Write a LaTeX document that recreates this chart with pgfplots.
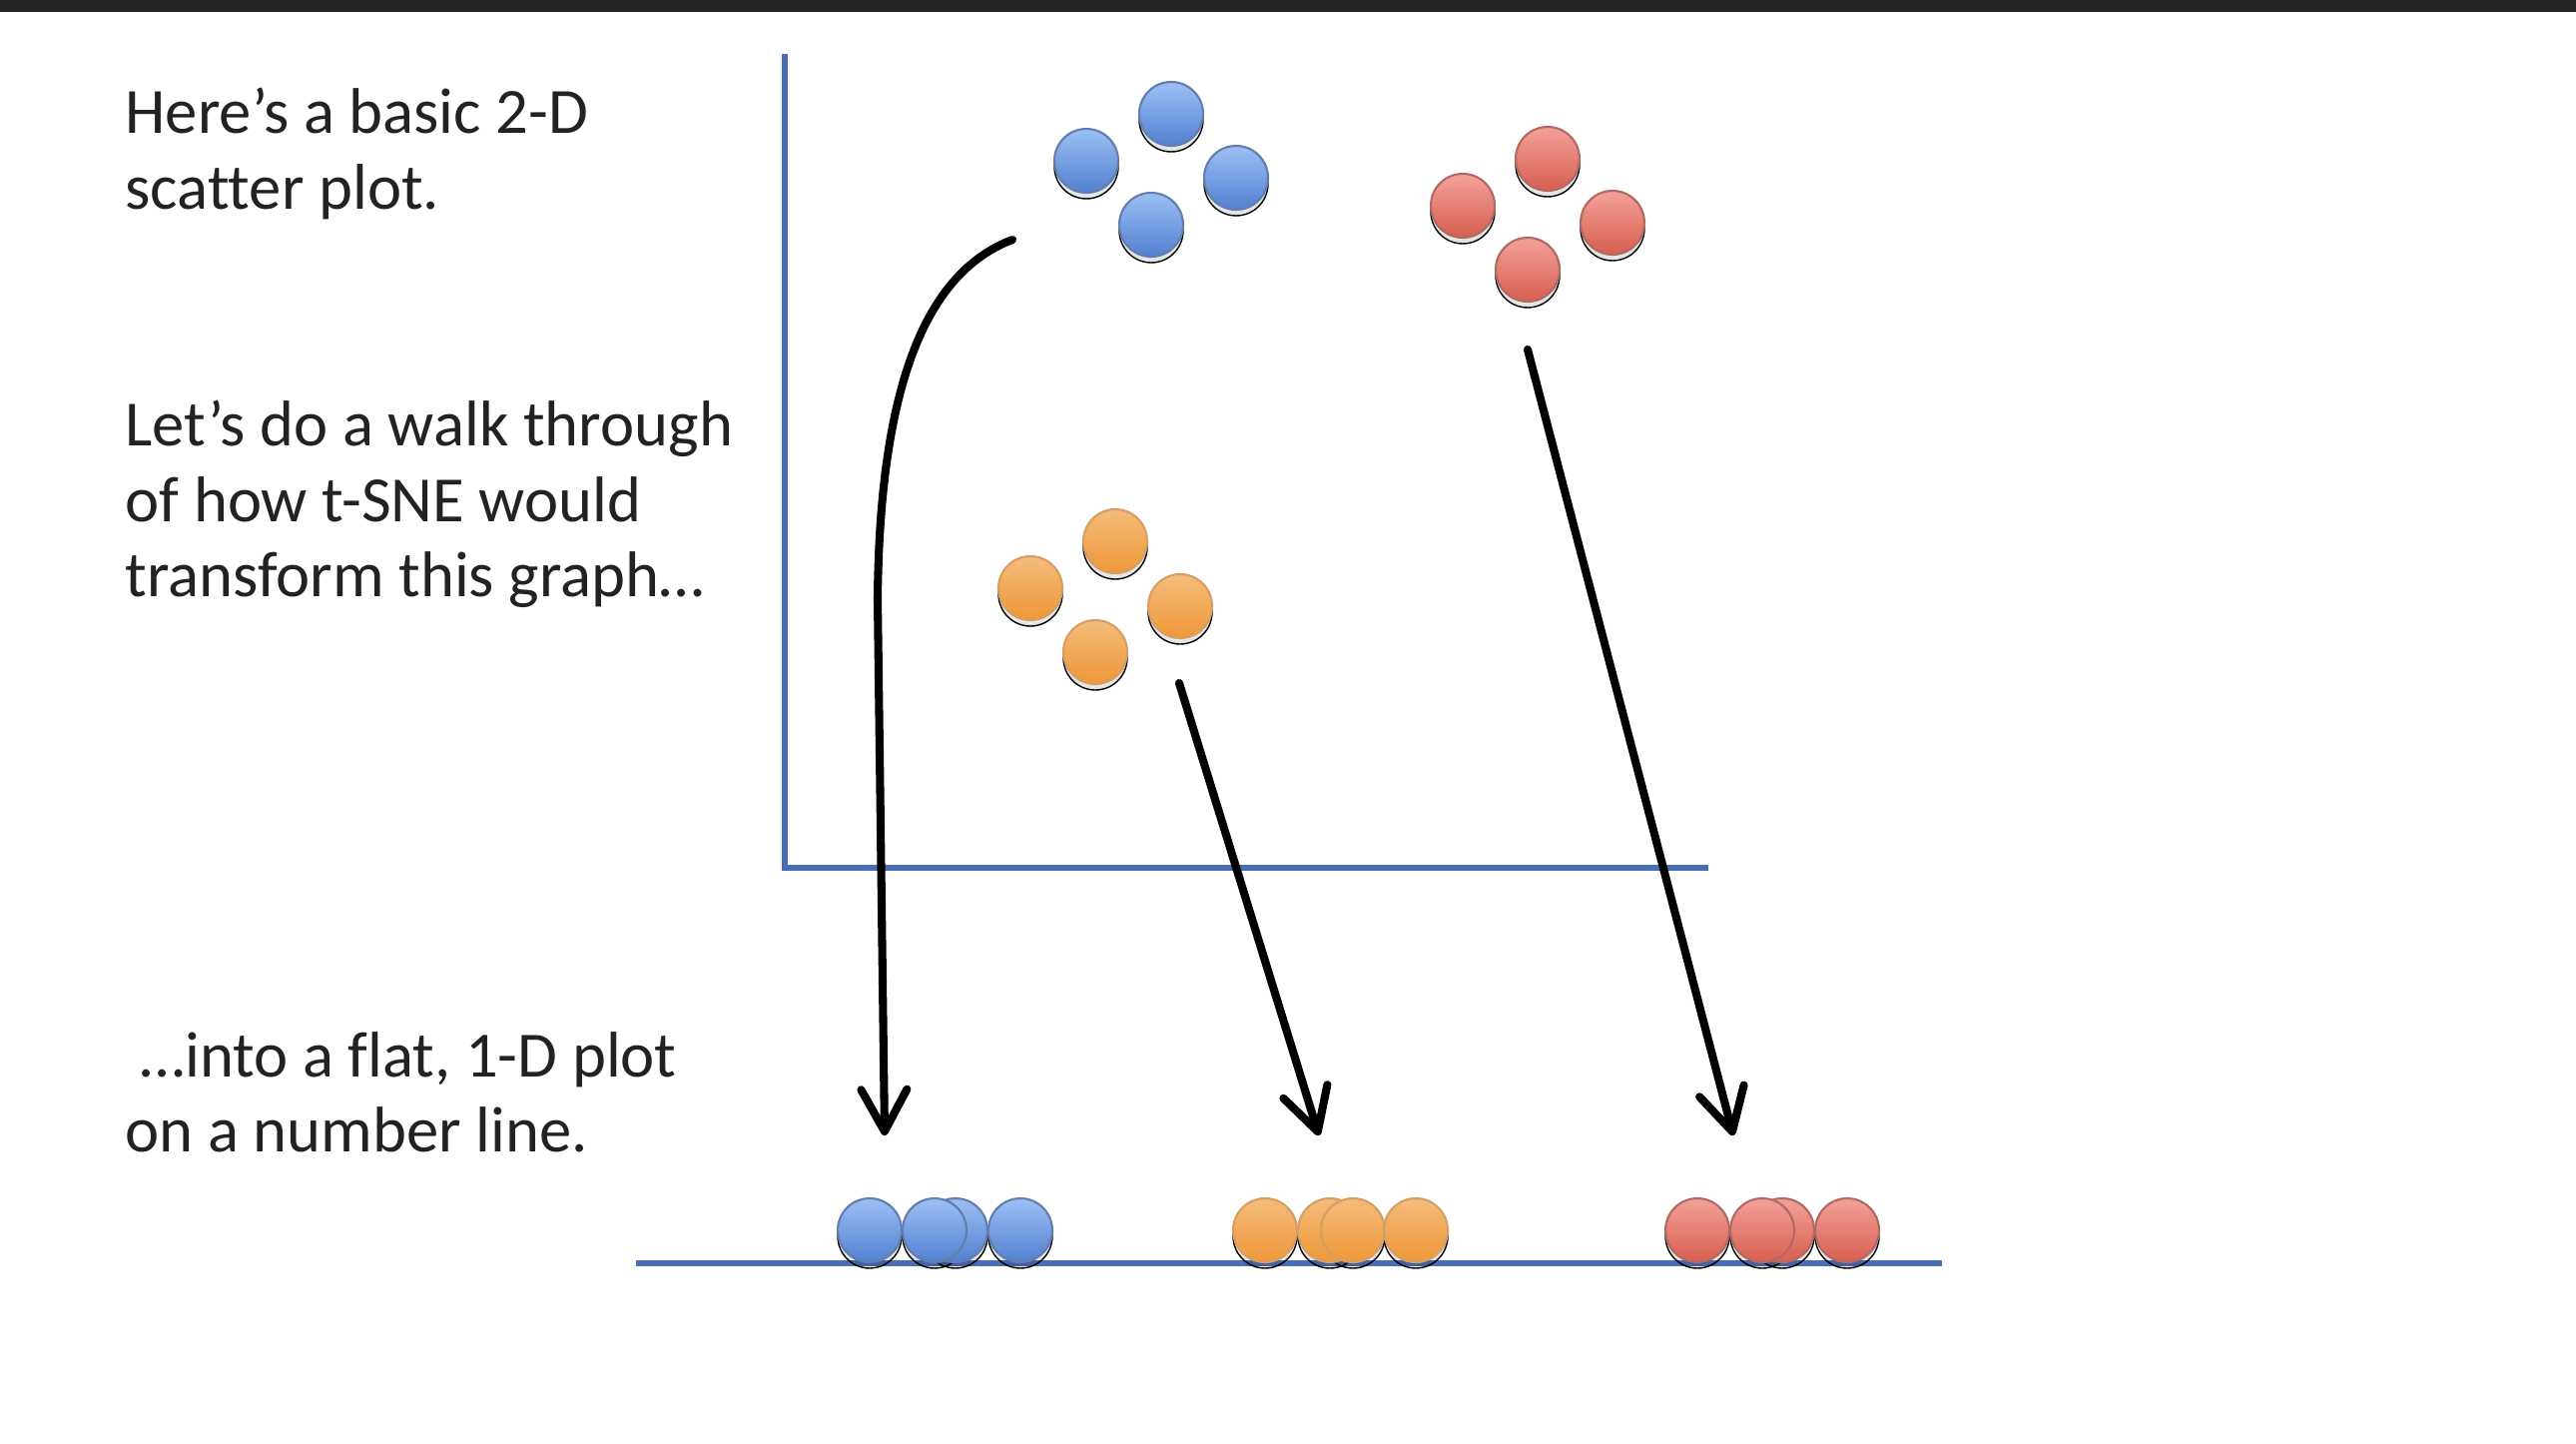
\documentclass[border=0pt]{standalone}
\usepackage{pgfplots}
\pgfplotsset{compat=1.18}
\usepackage{fontspec}
\setmainfont{Carlito}[Ligatures={NoCommon}]
\usetikzlibrary{arrows.meta}
\definecolor{axisblue}{HTML}{4A6EB4}
\definecolor{txt}{HTML}{222222}
\definecolor{bartop}{HTML}{252525}
\definecolor{bl}{HTML}{98BBF3}\definecolor{bd}{HTML}{5684D2}\definecolor{bo}{HTML}{627EAC}
\definecolor{ol}{HTML}{F5B976}\definecolor{od}{HTML}{EE9A3C}\definecolor{oo}{HTML}{D49E64}
\definecolor{rl}{HTML}{F19D95}\definecolor{rd}{HTML}{D96254}\definecolor{ro}{HTML}{B06A64}
\pgfdeclareverticalshading{bshade}{100bp}{color(0bp)=(bd); color(28bp)=(bd); color(72bp)=(bl); color(100bp)=(bl)}
\pgfdeclareverticalshading{oshade}{100bp}{color(0bp)=(od); color(28bp)=(od); color(72bp)=(ol); color(100bp)=(ol)}
\pgfdeclareverticalshading{rshade}{100bp}{color(0bp)=(rd); color(28bp)=(rd); color(72bp)=(rl); color(100bp)=(rl)}
\pgfdeclareplotmark{bdot}{\pgfpathcircle{\pgfpointorigin}{\pgfplotmarksize}\pgfshadepath{bshade}{0}\pgfusepath{stroke}}
\pgfdeclareplotmark{odot}{\pgfpathcircle{\pgfpointorigin}{\pgfplotmarksize}\pgfshadepath{oshade}{0}\pgfusepath{stroke}}
\pgfdeclareplotmark{rdot}{\pgfpathcircle{\pgfpointorigin}{\pgfplotmarksize}\pgfshadepath{rshade}{0}\pgfusepath{stroke}}
\pgfplotstableread{
x y
1173 114
1088 161
1238 178
1153 225
}\bluetwo
\pgfplotstableread{
x y
1550 159
1465 206
1615 223
1530 270
}\redtwo
\pgfplotstableread{
x y
1117 542
1032 589
1182 607
1097 653
}\orangetwo
\pgfplotstableread{
x y
871 1232
957 1232
936 1232
1022 1232
}\blueone
\pgfplotstableread{
x y
1267 1232
1332 1232
1355 1232
1418 1232
}\orangeone
\pgfplotstableread{
x y
1700 1232
1785 1232
1765 1232
1850 1232
}\redone
\begin{document}
\begin{tikzpicture}
\begin{axis}[
  width=25.8cm, height=14.46cm, scale only axis,
  xmin=0, xmax=2580, ymin=0, ymax=1446, y dir=reverse,
  hide axis, clip=false,
]
\fill[white] (axis cs:0,0) rectangle (axis cs:2580,1446);
\fill[bartop] (axis cs:0,0) rectangle (axis cs:2580,12);
% text
\begin{scope}[every node/.style={anchor=base west, inner sep=0pt, text=txt, font=\fontsize{18.4}{22}\selectfont}]
\node at (axis cs:125,133) {Here’s a basic 2-D};
\node at (axis cs:125,209) {scatter plot.};
\node at (axis cs:125,446) {Let’s do a walk through};
\node at (axis cs:125,522) {of how t-SNE would};
\node at (axis cs:125,597) {transform this graph…};
\node at (axis cs:140,1078) {…into a flat, 1-D plot};
\node at (axis cs:125,1153) {on a number line.};
\end{scope}
% axes of the 2-D plot
\addplot[axisblue, line width=1.5pt, no marks] coordinates {(786,54) (786,869) (1711,869)};
% shadows
\pgfplotsset{shadow/.style={only marks, mark=*, mark size=9.1pt, mark options={draw=none, fill=black, fill opacity=0.1, yshift=-0.06cm}}}
\addplot[shadow] table {\bluetwo};
\addplot[shadow] table {\redtwo};
\addplot[shadow] table {\orangetwo};
\addplot[shadow] table {\blueone};
\addplot[shadow] table {\orangeone};
\addplot[shadow] table {\redone};
% dots
\addplot[only marks, mark=bdot, mark size=9.1pt, mark options={draw=bo, line width=0.6pt}] table {\bluetwo};
\addplot[only marks, mark=rdot, mark size=9.1pt, mark options={draw=ro, line width=0.6pt}] table {\redtwo};
\addplot[only marks, mark=odot, mark size=9.1pt, mark options={draw=oo, line width=0.6pt}] table {\orangetwo};
\addplot[only marks, mark=bdot, mark size=9.1pt, mark options={draw=bo, line width=0.6pt}] table {\blueone};
\addplot[only marks, mark=odot, mark size=9.1pt, mark options={draw=oo, line width=0.6pt}] table {\orangeone};
\addplot[only marks, mark=rdot, mark size=9.1pt, mark options={draw=ro, line width=0.6pt}] table {\redone};
% number line
\addplot[axisblue, line width=1.8pt, no marks] coordinates {(637,1265) (1945,1265)};
% arrows
\tikzset{tsnearrow/.style={black, line width=2.3pt, line cap=round, line join=round, -{Straight Barb[length=0.42cm, width=0.46cm, round]}}}
\draw[tsnearrow]
  (axis cs:1014,240) .. controls (axis cs:930,272) and (axis cs:881,380) .. (axis cs:879,600) -- (axis cs:886,1137);
\addplot[tsnearrow, no marks] coordinates {(1181,684) (1321,1137)};
\addplot[tsnearrow, no marks] coordinates {(1530,350) (1736,1137)};
\end{axis}
\end{tikzpicture}
\end{document}
